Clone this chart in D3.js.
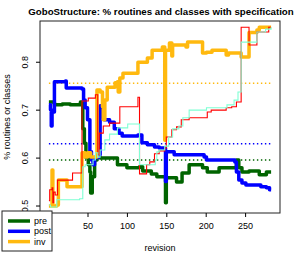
<!DOCTYPE html>
<html>
<head>
<meta charset="utf-8">
<script src="https://cdn.jsdelivr.net/npm/d3@7"></script>
<style>
  body { margin: 0; background: #fff; }
  text { font-family: "Liberation Sans", Arial, sans-serif; }
</style>
</head>
<body>
<div id="chart"></div>
<script>
// step series: [revision, fraction]
var pre = [[1,0.716],[8,0.710],[18,0.712],[28,0.710],[41,0.716],[44,0.66],[46,0.63],[48,0.60],[51,0.585],[53,0.570],[54,0.526],[56,0.560],[59,0.595],[62,0.601],[66,0.599],[88,0.585],[100,0.579],[116,0.581],[120,0.572],[131,0.566],[138,0.560],[149,0.506],[150,0.558],[163,0.549],[170,0.568],[179,0.585],[196,0.579],[202,0.570],[217,0.579],[239,0.595],[242,0.579],[246,0.570],[255,0.572],[268,0.564],[277,0.570],[283,0.570]];
var post = [[1,0.710],[3,0.700],[4,0.666],[5,0.695],[8,0.758],[22,0.760],[23,0.745],[43,0.743],[45,0.72],[47,0.704],[50,0.679],[53,0.612],[55,0.595],[57,0.585],[59,0.60],[64,0.606],[66,0.708],[69,0.685],[71,0.679],[78,0.674],[84,0.660],[90,0.651],[94,0.645],[114,0.647],[119,0.631],[126,0.627],[135,0.622],[141,0.620],[149,0.55],[150,0.612],[160,0.606],[198,0.601],[201,0.595],[232,0.595],[237,0.591],[239,0.570],[242,0.553],[246,0.547],[251,0.543],[270,0.539],[277,0.537],[281,0.533],[283,0.533]];
var inv = [[1,0.499],[5,0.574],[6,0.499],[11,0.501],[13,0.553],[24,0.539],[43,0.610],[47,0.601],[50,0.610],[54,0.601],[62,0.741],[66,0.737],[69,0.706],[70,0.679],[72,0.72],[75,0.747],[85,0.756],[88,0.758],[89,0.737],[91,0.766],[95,0.776],[114,0.799],[126,0.808],[132,0.824],[145,0.831],[148,0.636],[149,0.824],[154,0.839],[157,0.812],[158,0.835],[175,0.831],[177,0.841],[196,0.818],[201,0.820],[208,0.824],[226,0.814],[229,0.818],[245,0.810],[255,0.861],[265,0.866],[268,0.872],[283,0.872]];
var routines = [[1,0.51],[2,0.533],[5,0.537],[6,0.506],[7,0.528],[9,0.522],[12,0.553],[22,0.553],[31,0.568],[43,0.718],[51,0.724],[60,0.731],[63,0.606],[65,0.651],[70,0.666],[78,0.672],[91,0.706],[114,0.726],[116,0.566],[125,0.585],[129,0.591],[135,0.608],[141,0.614],[148,0.620],[150,0.643],[157,0.658],[163,0.664],[169,0.679],[179,0.683],[202,0.695],[207,0.699],[226,0.704],[233,0.706],[239,0.716],[245,0.872],[255,0.835],[265,0.862],[280,0.872],[283,0.872]];
var classes = [[1,0.501],[3,0.497],[11,0.512],[40,0.514],[44,0.581],[47,0.585],[57,0.595],[60,0.610],[63,0.601],[66,0.616],[72,0.637],[78,0.649],[88,0.662],[101,0.670],[116,0.585],[136,0.595],[138,0.612],[141,0.616],[148,0.624],[153,0.643],[158,0.66],[166,0.666],[171,0.683],[179,0.699],[201,0.704],[227,0.710],[236,0.720],[241,0.737],[245,0.841],[265,0.862],[276,0.868],[283,0.872]];
// reference levels (dotted)
var refLevels = [0.755, 0.629, 0.595];
var refColors = ["#FFB90F", "#0000FF", "#006400"];

var xTicks = [50, 100, 150, 200, 250];
var yTicks = [0.5, 0.6, 0.7, 0.8];
var legendLabels = ["pre", "post", "inv"];
var legendColors = ["#006400", "#0000FF", "#FFB90F"];

var width = 294, height = 254;
var plot = {left: 40, right: 280, top: 21, bottom: 213};

var svg = d3.select("#chart").append("svg")
    .attr("width", width)
    .attr("height", height);

var x = d3.scaleLinear().domain([-10.3, 294.3]).range([plot.left, plot.right]);
var y = d3.scaleLinear().domain([0.4844, 0.885]).range([plot.bottom, plot.top]);

var line = d3.line()
    .x(d => x(d[0]))
    .y(d => y(d[1]))
    .curve(d3.curveStepAfter);

var g = svg.append("g");

// dotted reference lines
refLevels.forEach(function (v, i) {
    g.append("line")
        .attr("x1", x(1)).attr("x2", x(283))
        .attr("y1", y(v)).attr("y2", y(v))
        .attr("stroke", refColors[i])
        .attr("stroke-width", 1.4)
        .attr("stroke-dasharray", "1.4,2.6");
});

// thick series
[[pre, "#006400"], [post, "#0000FF"], [inv, "#FFB90F"]].forEach(function (s) {
    g.append("path")
        .datum(s[0])
        .attr("d", line)
        .attr("fill", "none")
        .attr("stroke", s[1])
        .attr("stroke-width", 3.5)
        .attr("stroke-linejoin", "round");
});

// thin series
[[routines, "#FF0000"], [classes, "#7FFFD4"]].forEach(function (s) {
    g.append("path")
        .datum(s[0])
        .attr("d", line)
        .attr("fill", "none")
        .attr("stroke", s[1])
        .attr("stroke-width", 1.1);
});

// box
svg.append("rect")
    .attr("x", plot.left).attr("y", plot.top)
    .attr("width", plot.right - plot.left)
    .attr("height", plot.bottom - plot.top)
    .attr("fill", "none")
    .attr("stroke", "#222")
    .attr("stroke-width", 1);

// axes
var xAxis = d3.axisBottom(x).tickValues(xTicks).tickSize(4).tickPadding(6);
var xg = svg.append("g")
    .attr("transform", "translate(0," + plot.bottom + ")")
    .call(xAxis);
xg.select(".domain").remove();
xg.selectAll("text").attr("font-size", "9px").attr("fill", "#000");

var yAxis = d3.axisLeft(y).tickValues(yTicks).tickSize(4).tickFormat(d3.format(".1f"));
var yg = svg.append("g")
    .attr("transform", "translate(" + plot.left + ",0)")
    .call(yAxis);
yg.select(".domain").remove();
yg.selectAll("text")
    .attr("font-size", "9px")
    .attr("fill", "#000")
    .attr("x", 0).attr("y", 0).attr("dy", 0)
    .attr("text-anchor", "middle")
    .attr("transform", "translate(-12,0) rotate(-90)");

// titles
svg.append("text")
    .attr("x", 161).attr("y", 15)
    .attr("text-anchor", "middle")
    .attr("font-size", "9.7px")
    .attr("font-weight", "bold")
    .text("GoboStructure: % routines and classes with specification");

svg.append("text")
    .attr("x", 160).attr("y", 251)
    .attr("text-anchor", "middle")
    .attr("font-size", "9px")
    .text("revision");

svg.append("text")
    .attr("transform", "translate(9.5," + ((plot.top + plot.bottom) / 2) + ") rotate(-90)")
    .attr("text-anchor", "middle")
    .attr("font-size", "9px")
    .text("% routines or classes");

// legend
var lg = svg.append("g").attr("transform", "translate(2,211)");
lg.append("rect")
    .attr("width", 50).attr("height", 40)
    .attr("fill", "#fff").attr("stroke", "#222");
legendLabels.forEach(function (lab, i) {
    var ly = 10 + i * 10.3;
    lg.append("line")
        .attr("x1", 6).attr("x2", 28)
        .attr("y1", ly).attr("y2", ly)
        .attr("stroke", legendColors[i])
        .attr("stroke-width", 3.5);
    lg.append("text")
        .attr("x", 32).attr("y", ly + 3)
        .attr("font-size", "9px")
        .text(lab);
});
</script>
</body>
</html>
